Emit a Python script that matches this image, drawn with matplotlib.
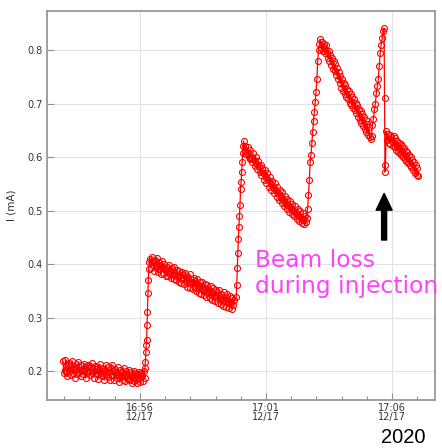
import matplotlib
matplotlib.use('Agg')
import matplotlib.pyplot as plt
import matplotlib.dates as mdates
import matplotlib.ticker as mticker
import numpy as np
from datetime import datetime, timedelta

t_ref = datetime(2020, 12, 17, 16, 56, 0)

# Stored beam current in uA, one list per stage of the fill.
# Each stage is sampled at a fixed interval from its start (seconds after t_ref).
flat_ua = [218, 196, 203, 221, 199, 190, 212, 216, 201, 193,
           209, 219, 197, 204, 188, 213, 206, 195, 217, 199,
           203, 190, 211, 200, 194, 214, 205, 187, 209, 197,
           212, 201, 192, 207, 215, 196, 199, 188, 210, 204,
           195, 208, 185, 202, 213, 197, 190, 206, 200, 183,
           203, 211, 194, 189, 207, 199, 184, 205, 212, 193,
           200, 183, 204, 192, 187, 207, 195, 179, 202, 190,
           198, 184, 206, 191, 181, 201, 194, 186, 203, 188,
           183, 198, 178, 194, 201, 181, 189, 196, 177, 195,
           199, 185, 180, 197, 191, 182, 201, 188]
ramp1_ua = [205, 217, 235, 249, 258, 286, 310, 346, 370, 390, 404]
decay1_ua = [410, 393, 414, 398, 404, 388, 407, 396, 412, 390,
             386, 403, 398, 381, 406, 392, 384, 400, 391, 378,
             395, 377, 388, 398, 382, 374, 393, 386, 372, 395,
             383, 370, 389, 377, 367, 388, 380, 364, 385, 374,
             379, 362, 383, 369, 358, 376, 366, 381, 356, 372,
             367, 353, 374, 358, 369, 349, 372, 361, 346, 367,
             359, 345, 366, 352, 342, 363, 355, 339, 361, 348,
             352, 336, 359, 345, 333, 355, 343, 331, 352, 340,
             347, 328, 351, 337, 325, 345, 334, 322, 347, 332,
             339, 320, 344, 330, 318, 340, 327, 316, 337, 324, 333]
ramp2_ua = [338, 360, 392, 420, 447, 470, 490, 510, 540, 553, 572, 590, 607, 620]
decay2_ua = [630, 612, 621, 605, 608, 618, 600, 596, 613, 598,
             590, 607, 595, 583, 601, 589, 577, 593, 584, 572,
             586, 566, 579, 570, 557, 575, 563, 552, 570, 558,
             544, 562, 550, 538, 556, 544, 532, 551, 536, 526,
             544, 533, 519, 538, 524, 515, 534, 520, 509, 528,
             513, 503, 522, 510, 498, 518, 504, 494, 512, 499,
             489, 508, 495, 485, 503, 490, 481, 499, 486, 477,
             495, 482, 474, 490, 478, 486]
ramp3_ua = [503, 529, 557, 590, 604, 626, 647, 668, 684, 702, 722, 745, 780, 800, 812]
decay3_ua = [820, 803, 815, 798, 812, 806, 794, 809, 797, 785,
             799, 779, 791, 772, 786, 764, 780, 760, 774, 753,
             766, 745, 759, 738, 752, 730, 746, 724, 739, 718,
             735, 713, 728, 708, 723, 701, 717, 697, 712, 692,
             708, 688, 701, 682, 697, 675, 690, 670, 686, 664,
             681, 659, 674, 653, 669, 647, 662, 641, 656, 638, 634]
ramp4_ua = [640, 660, 672, 690, 700, 720, 733, 745, 770, 795, 810, 822, 836, 841]
loss_ua = [710, 572, 586]
decay4_ua = [648, 631, 644, 627, 641, 625, 638, 630, 621, 639,
             618, 635, 614, 630, 610, 627, 607, 624, 603, 620,
             600, 617, 596, 612, 592, 609, 589, 604, 585, 600,
             581, 595, 576, 590, 571, 585, 566, 579, 565]

segments = [(-183, 2, flat_ua), (12, 1, ramp1_ua), (24, 2, decay1_ua),
            (229, 1.3, ramp2_ua), (247, 2, decay2_ua), (399, 2, ramp3_ua),
            (429, 2, decay3_ua), (551, 2.3, ramp4_ua), (582, 1, loss_ua),
            (586, 2, decay4_ua)]

secs = np.concatenate([t0 + dt * np.arange(len(v)) for t0, dt, v in segments])
current = np.concatenate([v for _, _, v in segments]) / 1000.0
times = [t_ref + timedelta(seconds=float(s)) for s in secs]

fig = plt.figure(figsize=(4.42, 4.48), dpi=100)
ax = fig.add_axes([47 / 442, 48 / 448, 388 / 442, 389 / 448])

ax.plot(times, current, color='red', lw=0.9, marker='o', ms=4.3,
        mfc='none', mec='red', mew=0.8, zorder=3)

ax.set_xlim(t_ref - timedelta(seconds=221), t_ref + timedelta(seconds=702))
ax.set_ylim(0.146, 0.873)

ax.xaxis.set_major_locator(mdates.MinuteLocator(byminute=range(1, 60, 5)))
ax.xaxis.set_minor_locator(mdates.MinuteLocator())
ax.xaxis.set_major_formatter(mdates.DateFormatter('%H:%M\n%m/%d'))
ax.yaxis.set_major_locator(mticker.MultipleLocator(0.1))
ax.yaxis.set_major_formatter(mticker.FormatStrFormatter('%.1f'))

ax.tick_params(which='both', direction='in', color='#909090', labelsize=7,
               labelcolor='#333333')
ax.tick_params(which='major', length=5, width=0.8)
ax.tick_params(which='minor', length=3, width=0.8)
ax.tick_params(axis='x', pad=2)
ax.tick_params(axis='y', pad=3)
for tl in ax.get_xticklabels():
    tl.set_linespacing(0.95)

ax.grid(True, which='major', color='#e2e2e2', lw=0.8)
ax.set_axisbelow(True)
for sp in ax.spines.values():
    sp.set_color('#999999')
    sp.set_linewidth(1.3)

ax.set_ylabel('I (mA)', fontsize=7.5, color='#333333', labelpad=8)

# arrow pointing at the injection loss
ax.annotate('', xy=(t_ref + timedelta(seconds=581), 0.532),
            xytext=(t_ref + timedelta(seconds=581), 0.445),
            arrowprops=dict(facecolor='black', edgecolor='black', width=3.6,
                            headwidth=11.5, headlength=12, shrink=0))

fig.text(255 / 442, 1 - 249 / 448, 'Beam loss\nduring injection',
         fontsize=16.8, color='#ff40ff', va='top', ha='left', linespacing=1.15)
fig.text(381 / 442, 1 - 443 / 448, '2020', fontsize=14.5,
         family='Liberation Sans', va='baseline', ha='left')

fig.savefig('out.png', dpi=100)
